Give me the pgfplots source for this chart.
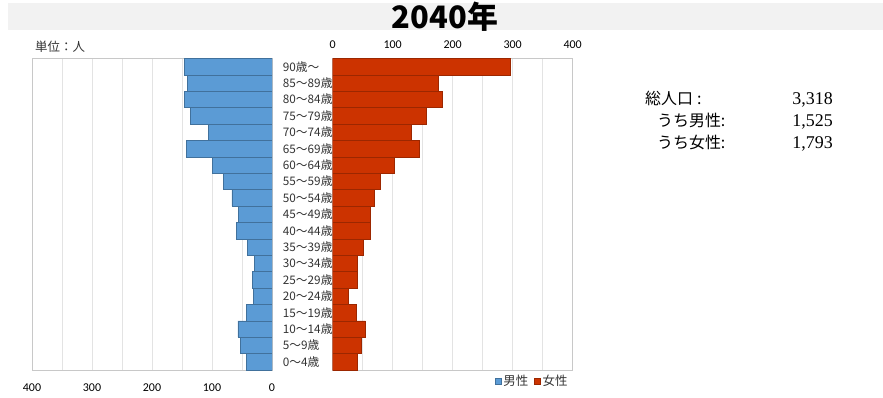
\documentclass[border=0pt]{standalone}
\usepackage{fontspec}
\usepackage{pgfplots}
\pgfplotsset{compat=1.18}
\setmainfont{Carlito}
\newfontfamily\cjk{Noto Sans CJK JP}
\newfontfamily\numfont{Liberation Serif}
\definecolor{mblue}{HTML}{5B9BD5}
\definecolor{mblueB}{HTML}{41719C}
\definecolor{fred}{HTML}{CC3300}
\definecolor{fredB}{HTML}{9C2700}
\definecolor{gridc}{HTML}{E3E3E3}
\definecolor{framec}{HTML}{C8C8C8}
\definecolor{band}{HTML}{F2F2F2}
\definecolor{txt}{HTML}{333333}

\pgfplotstableread{
age male female
0 43 41.6
1 53 47
2 57 54.3
3 43 38.8
4 31 26.6
5 33 40.5
6 29.5 41.6
7 41 50.4
8 59.5 62
9 55.5 62.6
10 67 70
11 81 79
12 100 102
13 143 143.5
14 105.5 131
15 136 156
16 146 183.4
17 141 176.8
18 146 296
}\pyr

\pgfplotsset{pyr/.style={
  scale only axis, width=240bp, height=311.5bp,
  xmin=0, xmax=400, ymin=-0.5, ymax=18.5,
  xbar, bar width=1, bar shift=0pt,
  xtick={0,100,...,400}, minor xtick={50,150,250,350},
  xmajorgrids, xminorgrids,
  grid style={gridc, line width=0.6bp},
  major tick length=0, minor tick length=0,
  axis line style={framec, line width=0.6bp},
  ytick=\empty,
  tick label style={font=\fontsize{12}{14}\selectfont, text=black},
  /pgf/number format/assume math mode=true,
}}

\begin{document}
\begin{tikzpicture}[x=1bp,y=1bp]
\path[use as bounding box] (0,0) rectangle (883,-397);
\fill[band] (8,-3) rectangle (883,-30);
\node[font=\cjk\bfseries\fontsize{31}{34}\selectfont, anchor=base, inner sep=0] at (445,-28) {2040年};
\node[font=\cjk\fontsize{12.5}{14}\selectfont, anchor=west, inner sep=0, text=txt] at (35,-47) {単位：人};

% male (left)
\begin{axis}[pyr, x dir=reverse, at={(32bp,-370bp)}, anchor=south west,
  xticklabel style={yshift=-10bp}]
\addplot[fill=mblue, draw=mblueB, line width=0.6bp] table[x=male, y=age] {\pyr};
\end{axis}

% female (right)
\begin{axis}[pyr, at={(332.7bp,-370bp)}, anchor=south west,
  xticklabel pos=right, xticklabel style={yshift=6bp},
  ytick={0,...,18},
  yticklabels={0～4歳,5～9歳,10～14歳,15～19歳,20～24歳,25～29歳,30～34歳,35～39歳,40～44歳,45～49歳,50～54歳,55～59歳,60～64歳,65～69歳,70～74歳,75～79歳,80～84歳,85～89歳,90歳～},
  yticklabel style={font=\cjk\fontsize{11.8}{13}\selectfont, anchor=west, inner sep=0, xshift=-50bp, text=txt},
  legend style={at={(1,0)}, anchor=north east, yshift=-1bp, draw=none, fill=none,
    font=\cjk\fontsize{12.5}{14}\selectfont, text=txt, legend columns=2,
    /tikz/every even column/.append style={column sep=4bp}},
  legend image code/.code={\filldraw[#1, line width=0.4bp] (0bp,-3bp) rectangle (6bp,3bp);},
  ]
\addlegendimage{fill=mblue, draw=mblueB}
\addlegendentry{男性}
\addplot[fill=fred, draw=fredB, line width=0.6bp] table[x=female, y=age] {\pyr};
\addlegendentry{女性}
\end{axis}

% summary text
\begin{scope}[every node/.style={inner sep=0}]
\node[font=\cjk\fontsize{16}{18}\selectfont, anchor=base west] at (645,-104) {総人口\hspace{4bp}:};
\node[font=\cjk\fontsize{16}{18}\selectfont, anchor=base west] at (657,-126) {うち男性:};
\node[font=\cjk\fontsize{16}{18}\selectfont, anchor=base west] at (657,-148) {うち女性:};
\node[font=\numfont\fontsize{18}{20}\selectfont, anchor=base east] at (833,-104) {3,318};
\node[font=\numfont\fontsize{18}{20}\selectfont, anchor=base east] at (833,-126) {1,525};
\node[font=\numfont\fontsize{18}{20}\selectfont, anchor=base east] at (833,-148) {1,793};
\end{scope}
\end{tikzpicture}
\end{document}
